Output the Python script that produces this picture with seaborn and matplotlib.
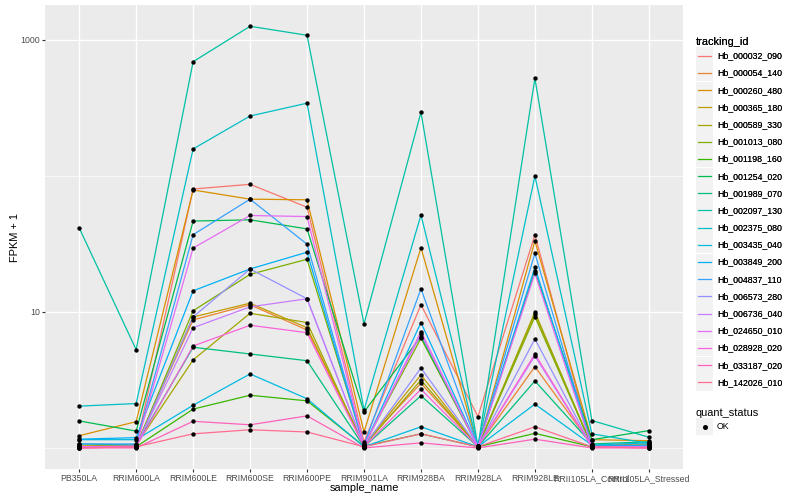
import pandas as pd
import matplotlib
matplotlib.use("Agg")
import matplotlib.pyplot as plt
import seaborn as sns
from matplotlib.lines import Line2D
from matplotlib.patches import Rectangle
from matplotlib.legend_handler import HandlerBase

# samples on the x axis, in plot order
samples = ["PB350LA", "RRIM600LA", "RRIM600LE", "RRIM600SE", "RRIM600PE", "RRIM901LA",
           "RRIM928BA", "RRIM928LA", "RRIM928LE", "RRII105LA_Control", "RRII105LA_Stressed"]

tracking_ids = ["Hb_000032_090", "Hb_000054_140", "Hb_000260_480", "Hb_000365_180", "Hb_000589_330",
                "Hb_001013_080", "Hb_001198_160", "Hb_001254_020", "Hb_001989_070", "Hb_002097_130",
                "Hb_002375_080", "Hb_003435_040", "Hb_003849_200", "Hb_004837_110", "Hb_006573_280",
                "Hb_006736_040", "Hb_024650_010", "Hb_028928_020", "Hb_033187_020", "Hb_142026_010"]

# FPKM + 1 per gene, one value per sample
hb_000032_090 = [1.02, 1.03, 80.2, 86.8, 58.9, 1.11, 11.3, 1.70, 36.9, 1.03, 1.03]
hb_000054_140 = [1.03, 1.05, 8.74, 11.3, 7.37, 1.07, 2.99, 1.03, 3.96, 1.05, 1.07]
hb_000260_480 = [1.23, 1.56, 78.9, 67.5, 66.8, 1.31, 29.7, 1.02, 33.3, 1.15, 1.13]
hb_000365_180 = [1.02, 1.03, 9.19, 11.6, 7.66, 1.05, 3.44, 1.02, 9.67, 1.03, 1.03]
hb_000589_330 = [1.03, 1.05, 4.44, 9.78, 8.36, 1.03, 3.16, 1.02, 10.0, 1.03, 1.05]
hb_001013_080 = [1.02, 1.03, 10.2, 18.9, 24.4, 1.05, 6.41, 1.02, 9.23, 1.03, 1.03]
hb_001198_160 = [1.02, 1.02, 1.93, 2.44, 2.22, 1.03, 1.27, 1.02, 1.28, 1.02, 1.03]
hb_001254_020 = [1.58, 1.33, 46.6, 47.6, 40.8, 1.84, 6.59, 1.03, 20.0, 1.15, 1.34]
hb_001989_070 = [1.07, 1.05, 5.50, 4.91, 4.38, 1.02, 2.42, 1.02, 3.11, 1.07, 1.11]
hb_002097_130 = [41.5, 5.28, 692, 1261, 1083, 8.16, 294, 1.02, 523, 1.59, 1.20]
hb_002375_080 = [2.03, 2.12, 158, 276, 343, 1.90, 51.7, 1.03, 100, 1.27, 1.08]
hb_003435_040 = [1.15, 1.15, 2.06, 3.50, 2.30, 1.02, 1.43, 1.02, 2.10, 1.05, 1.09]
hb_003849_200 = [1.16, 1.19, 14.3, 20.7, 27.5, 1.03, 8.36, 1.02, 21.3, 1.03, 1.05]
hb_004837_110 = [1.07, 1.07, 37.0, 67.5, 31.5, 1.05, 14.8, 1.03, 27.0, 1.03, 1.03]
hb_006573_280 = [1.02, 1.02, 9.19, 20.7, 12.5, 1.03, 3.87, 1.02, 6.33, 1.02, 1.02]
hb_006736_040 = [1.02, 1.03, 7.66, 10.9, 12.5, 1.03, 6.89, 1.02, 4.75, 1.02, 1.02]
hb_024650_010 = [1.02, 1.03, 29.5, 51.2, 50.3, 1.03, 7.17, 1.02, 19.2, 1.02, 1.02]
hb_028928_020 = [1.00, 1.02, 5.62, 7.98, 7.04, 1.02, 2.70, 1.02, 4.91, 1.02, 1.00]
hb_033187_020 = [1.00, 1.00, 1.57, 1.48, 1.72, 1.00, 1.09, 1.00, 1.16, 1.00, 1.00]
hb_142026_010 = [1.00, 1.02, 1.27, 1.36, 1.31, 1.02, 1.27, 1.02, 1.43, 1.02, 1.00]

series_values = [hb_000032_090, hb_000054_140, hb_000260_480, hb_000365_180, hb_000589_330,
                 hb_001013_080, hb_001198_160, hb_001254_020, hb_001989_070, hb_002097_130,
                 hb_002375_080, hb_003435_040, hb_003849_200, hb_004837_110, hb_006573_280,
                 hb_006736_040, hb_024650_010, hb_028928_020, hb_033187_020, hb_142026_010]

# ggplot default hue palette for 20 groups
palette = ["#F8766D", "#EA8331", "#D89000", "#C09B00", "#A3A500", "#7CAE00", "#39B600",
           "#00BB4E", "#00BF7D", "#00C1A3", "#00BFC4", "#00BAE0", "#00B0F6", "#35A2FF",
           "#9590FF", "#C77CFF", "#E76BF3", "#FA62DB", "#FF62BC", "#FF6C91"]


class KeyHandler(HandlerBase):
    # grey ggplot-like key box with the line and/or point drawn on it
    def create_artists(self, legend, orig_handle, xdescent, ydescent, width, height, fontsize, trans):
        x0, y0 = -xdescent, -ydescent
        artists = [Rectangle((x0, y0), width, height, facecolor="#F2F2F2", edgecolor="none", transform=trans)]
        ym = y0 + height / 2
        if orig_handle.get_linestyle() not in ("None", "none", ""):
            artists.append(Line2D([x0 + 1.5, x0 + width - 1.5], [ym, ym], color=orig_handle.get_color(),
                                  lw=orig_handle.get_linewidth(), transform=trans))
        if orig_handle.get_marker() not in ("None", "none", "", None):
            artists.append(Line2D([x0 + width / 2], [ym], color="black", marker=orig_handle.get_marker(),
                                  markersize=orig_handle.get_markersize(), linestyle="None", transform=trans))
        return artists


def build_frame():
    rows = []
    for tid, vals in zip(tracking_ids, series_values):
        for sample, v in zip(samples, vals):
            rows.append({"tracking_id": tid, "sample_name": sample, "fpkm_plus1": v, "quant_status": "OK"})
    return pd.DataFrame(rows)


def add_legend(fig, handles, labels, title, top_px):
    return fig.legend(handles, labels, title=title, loc="upper left",
                      bbox_to_anchor=(696 / 800, 1 - top_px / 500), frameon=False, fontsize=6.3,
                      title_fontsize=7.9, handlelength=1.95, handleheight=2.6, labelspacing=0.03,
                      handletextpad=0.45, borderpad=0, borderaxespad=0, alignment="left",
                      handler_map={Line2D: KeyHandler()})


def plot_graph(df):
    sns.set_style({"axes.facecolor": "#EBEBEB", "grid.color": "white"})
    plt.rcParams["font.family"] = ["Liberation Sans", "DejaVu Sans"]

    fig = plt.figure(figsize=(8, 5), dpi=100)
    ax = fig.add_axes([45 / 800, 31 / 500, 638 / 800, 464 / 500])

    sns.lineplot(data=df, x="sample_name", y="fpkm_plus1", hue="tracking_id", palette=palette,
                 estimator=None, sort=False, linewidth=0.9, legend=False, ax=ax)
    sns.scatterplot(data=df, x="sample_name", y="fpkm_plus1", color="black", s=10,
                    linewidth=0, legend=False, ax=ax, zorder=3)

    ax.set_yscale("log")
    ax.set_ylim(0.70, 1808)
    ax.set_xlim(-0.6, len(samples) - 0.4)
    ax.set_yticks([10, 1000])
    ax.set_yticklabels(["10", "1000"])
    ax.set_yticks([1, 100], minor=True)
    ax.set_yticklabels([], minor=True)
    ax.tick_params(which="minor", length=0)
    ax.tick_params(which="major", length=2.2, width=0.8, color="#333333", labelsize=6.3,
                   labelcolor="#4D4D4D", pad=1.5)
    ax.set_axisbelow(True)
    ax.grid(which="major", color="white", linewidth=1.0)
    ax.grid(which="minor", color="white", linewidth=0.5)
    for sp in ax.spines.values():
        sp.set_visible(False)

    ax.set_xlabel("sample_name", fontsize=7.9, color="black", labelpad=0)
    ax.set_ylabel("FPKM + 1", fontsize=7.9, color="black", labelpad=0)

    id_handles = [Line2D([], [], color=c, lw=0.9) for c in palette]
    leg1 = add_legend(fig, id_handles, tracking_ids, "tracking_id", 37)
    status_handles = [Line2D([], [], linestyle="None", marker="o", markersize=2.6, color="black")]
    add_legend(fig, status_handles, ["OK"], "quant_status", 408)
    fig.add_artist(leg1)

    fig.savefig("out.png", dpi=100)


if __name__ == "__main__":
    plot_graph(build_frame())
